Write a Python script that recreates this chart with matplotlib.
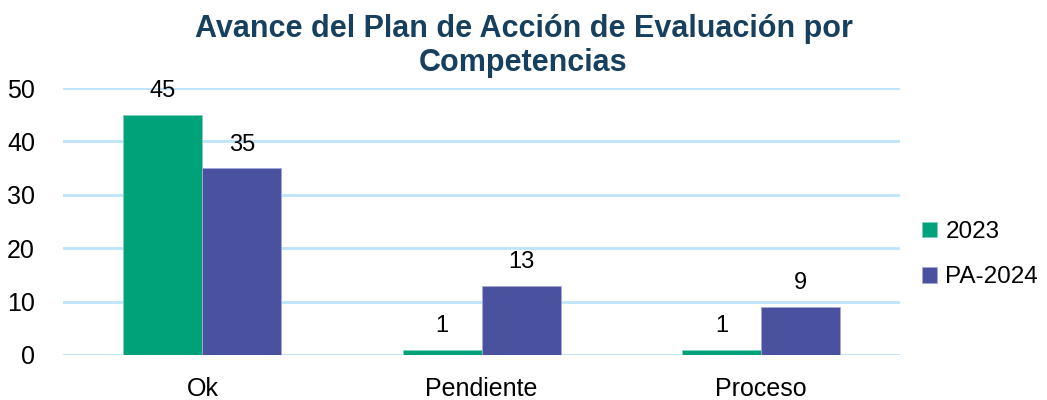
import numpy as np
import matplotlib
matplotlib.use("Agg")
from matplotlib import pyplot as plt

# Datos del gráfico
categorias = ['Ok', 'Pendiente', 'Proceso']
valores_2023 = [45, 1, 1]
valores_pa2024 = [35, 13, 9]
series = ['2023', 'PA-2024']
colores = ['#00A27A', '#4A52A0']

plt.rcParams['font.family'] = ['Liberation Sans', 'DejaVu Sans']

fig = plt.figure(figsize=(10.47, 4.0), dpi=100)
ax = fig.add_axes([0.060, 0.1125, 0.800, 0.6675])

x = np.arange(len(categorias))
ancho = 0.283
b1 = ax.bar(x - ancho / 2, valores_2023, ancho, color=colores[0], label=series[0],
            edgecolor='#7FD0BC', linewidth=0.6, zorder=3)
b2 = ax.bar(x + ancho / 2, valores_pa2024, ancho, color=colores[1], label=series[1],
            edgecolor='#A5A9D8', linewidth=0.6, zorder=3)

for barras in (b1, b2):
    ax.bar_label(barras, padding=9, fontsize=17, color='#000000')

ax.set_xlim(-0.5, 2.5)
ax.set_ylim(0, 50)
ax.set_yticks([0, 10, 20, 30, 40, 50])
ax.set_xticks(x)
ax.set_xticklabels(categorias)
ax.tick_params(axis='both', length=0, labelsize=18, colors='#000000')
ax.tick_params(axis='x', pad=16)
ax.tick_params(axis='y', pad=20)
ax.grid(axis='y', color='#BEE4F9', linewidth=2, zorder=0)
for s in ax.spines.values():
    s.set_visible(False)

fig.text(0.5, 0.885, 'Avance del Plan de Acción de Evaluación por\nCompetencias',
         ha='center', va='center', fontsize=22, fontweight='bold', color='#17405E',
         linespacing=1.2)

ax.legend(loc='center left', bbox_to_anchor=(1.0, 0.375), frameon=False, fontsize=17.5,
          handlelength=0.6, handleheight=0.6, handletextpad=0.35, labelspacing=0.95)

fig.savefig('out.png', dpi=100)
